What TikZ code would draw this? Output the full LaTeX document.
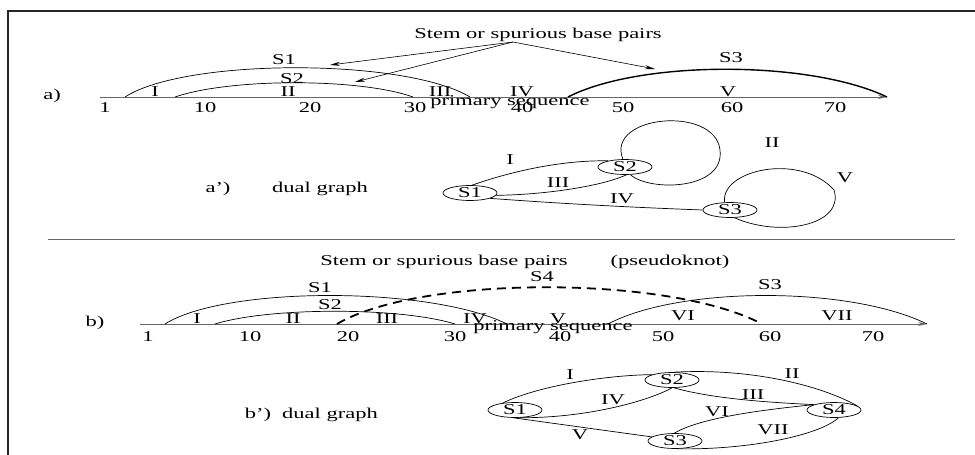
\documentclass[tikz,border=0pt]{standalone}
\usepackage{fontspec}
\setmainfont{Liberation Serif}
\usepackage{graphicx}
\usetikzlibrary{arrows.meta,shapes.geometric}
% labels are set wide, as in the original drawing
\newcommand{\wtext}[1]{\scalebox{1.5}[1]{#1}}
\begin{document}
\begin{tikzpicture}[x=1pt,y=-1pt,
  txt/.style={inner sep=0pt, font=\fontsize{15}{18}\selectfont},
  stemnode/.style={txt, draw, ellipse, minimum width=54pt, minimum height=15pt, line width=0.7pt},
  thin line/.style={line width=0.7pt},
  seqaxis/.style={line width=0.9pt, draw=black!60, -{Stealth[length=9pt,width=4pt]}},
  pointer/.style={line width=0.6pt, -{Stealth[length=10pt,width=4pt]}},
  frame/.style={line width=2pt, draw=black!85},
  knot/.style={line width=1.8pt, dash pattern=on 9pt off 6pt}
]
\useasboundingbox (0,0) rectangle (975,455);

% outer frame and separator
\draw[frame] (8,456) -- (8,11) -- (976,11);
\draw[line width=1pt, draw=black!60] (48,239) -- (955,239);

% ---------------- a) nested stems ----------------
\node[txt] (titA) at (538,35) {\wtext{Stem or spurious base pairs}};
\coordinate (stemA) at (513,42);
\node[txt] (labA) at (52,96) {\wtext{a)}};

\coordinate (axA0) at (100,97);
\coordinate (axA1) at (887,97);
\draw[seqaxis] (axA0) -- (axA1);
\node[txt] (seqA) at (510,102) {\wtext{primary sequence}};

\foreach \n/\x/\t in {1/105/1, 2/205/10, 3/310/20, 4/415/30, 5/522/40, 6/623/50, 7/732/60, 8/835/70}
  \node[txt] (tickA\n) at (\x,108) {\wtext{\t}};

\coordinate (a1s) at (125,97); \coordinate (a1e) at (470,97);
\coordinate (a2s) at (175,97); \coordinate (a2e) at (413,97);
\coordinate (a3s) at (568,97);
\draw[thin line] (a1s) .. controls (185,58) and (405,58) .. (a1e);
\draw[thin line] (a2s) .. controls (230,78) and (360,78) .. (a2e);
\draw[line width=1.4pt] (a3s) .. controls (640,60) and (810,60) .. (axA1);

\node[txt] (s1A) at (284,60) {\wtext{S1}};
\node[txt] (s2A) at (292,79) {\wtext{S2}};
\node[txt] (s3A) at (731,58) {\wtext{S3}};

\node[txt] (rA1) at (155,92) {\wtext{I}};
\node[txt] (rA2) at (288,92) {\wtext{II}};
\node[txt] (rA3) at (440,92) {\wtext{III}};
\node[txt] (rA4) at (522,92) {\wtext{IV}};
\node[txt] (rA5) at (728,92) {\wtext{V}};

\coordinate (hitA1) at (330,65);
\coordinate (hitA2) at (355,82);
\coordinate (hitA3) at (655,69);
\draw[pointer] (stemA) -- (hitA1);
\draw[pointer] (stemA) -- (hitA2);
\draw[pointer] (stemA) -- (hitA3);

% ---------------- a') dual graph ----------------
\node[txt] (labAp) at (218,189) {\wtext{a')}};
\node[txt] (dualA) at (320,189) {\wtext{dual graph}};

\node[stemnode] (gS1) at (470,193) {\wtext{S1}};
\node[stemnode] (gS2) at (625,167) {\wtext{S2}};
\node[stemnode] (gS3) at (730,210) {\wtext{S3}};

\draw[thin line] (gS1.75) .. controls (515,170) and (565,160) .. (gS2.160);
\draw[thin line] (gS1.-5) .. controls (540,195) and (600,187) .. (gS2.-80);
\draw[thin line] (gS1.-15) .. controls (580,205) and (650,208) .. (gS3.180);
\draw[thin line] (gS2.105) .. controls (605,115) and (715,105) .. (720,150)
                 .. controls (725,190) and (650,192) .. (gS2.-55);
\draw[thin line] (gS3.125) .. controls (720,170) and (800,152) .. (834,190)
                 .. controls (845,225) and (780,238) .. (gS3.-60);

\node[txt] (eA1) at (510,160) {\wtext{I}};
\node[txt] (eA2) at (772,143) {\wtext{II}};
\node[txt] (eA3) at (558,183) {\wtext{III}};
\node[txt] (eA4) at (622,199) {\wtext{IV}};
\node[txt] (eA5) at (845,178) {\wtext{V}};

% ---------------- b) pseudoknot ----------------
\node[txt] (titB) at (444,262) {\wtext{Stem or spurious base pairs}};
\node[txt] (pkB) at (670,262) {\wtext{(pseudoknot)}};
\node[txt] (labB) at (95,323) {\wtext{b)}};

\coordinate (axB0) at (140,324);
\coordinate (axB1) at (927,324);
\draw[seqaxis] (axB0) -- (axB1);
\node[txt] (seqB) at (553,327) {\wtext{primary sequence}};

\foreach \n/\x/\t in {1/148/1, 2/250/10, 3/348/20, 4/455/30, 5/560/40, 6/663/50, 7/770/60, 8/873/70}
  \node[txt] (tickB\n) at (\x,337) {\wtext{\t}};

\coordinate (b1s) at (165,324); \coordinate (b1e) at (507,324);
\coordinate (b2s) at (215,324); \coordinate (b2e) at (455,324);
\coordinate (b3s) at (608,324);
\coordinate (b4s) at (337,324); \coordinate (b4e) at (762,324);
\draw[thin line] (b1s) .. controls (225,286) and (430,286) .. (b1e);
\draw[thin line] (b2s) .. controls (270,307) and (400,307) .. (b2e);
\draw[thin line] (b3s) .. controls (680,286) and (850,286) .. (axB1);
\draw[knot] (b4s) .. controls (420,275) and (670,275) .. (b4e);

\node[txt] (s1B) at (320,288) {\wtext{S1}};
\node[txt] (s2B) at (330,305) {\wtext{S2}};
\node[txt] (s3B) at (770,285) {\wtext{S3}};
\node[txt] (s4B) at (542,277) {\wtext{S4}};

\node[txt] (rB1) at (197,319) {\wtext{I}};
\node[txt] (rB2) at (293,319) {\wtext{II}};
\node[txt] (rB3) at (387,319) {\wtext{III}};
\node[txt] (rB4) at (475,319) {\wtext{IV}};
\node[txt] (rB5) at (558,319) {\wtext{V}};
\node[txt] (rB6) at (683,316) {\wtext{VI}};
\node[txt] (rB7) at (837,316) {\wtext{VII}};

% ---------------- b') dual graph ----------------
\node[txt] (labBp) at (258,415) {\wtext{b')}};
\node[txt] (dualB) at (330,415) {\wtext{dual graph}};

\node[stemnode] (hS1) at (515,410) {\wtext{S1}};
\node[stemnode] (hS2) at (672,380) {\wtext{S2}};
\node[stemnode] (hS3) at (675,441) {\wtext{S3}};
\node[stemnode] (hS4) at (834,410) {\wtext{S4}};

\draw[thin line] (hS1.150) .. controls (540,385) and (610,375) .. (hS2.165);
\draw[thin line] (hS2.75) .. controls (750,368) and (820,385) .. (hS4.10);
\draw[thin line] (hS2.-75) .. controls (710,398) and (760,402) .. (hS4.165);
\draw[thin line] (hS1.-60) .. controls (590,418) and (650,400) .. (hS2.-90);
\draw[thin line] (hS1.-100) -- (hS3.170);
\draw[thin line] (hS3.95) .. controls (700,418) and (760,410) .. (hS4.165);
\draw[thin line] (hS3.-75) .. controls (750,450) and (820,435) .. (hS4.-60);

\node[txt] (eB1) at (570,375) {\wtext{I}};
\node[txt] (eB2) at (792,374) {\wtext{II}};
\node[txt] (eB3) at (753,395) {\wtext{III}};
\node[txt] (eB4) at (613,400) {\wtext{IV}};
\node[txt] (eB5) at (580,435) {\wtext{V}};
\node[txt] (eB6) at (717,412) {\wtext{VI}};
\node[txt] (eB7) at (773,430) {\wtext{VII}};
\end{tikzpicture}
\end{document}
